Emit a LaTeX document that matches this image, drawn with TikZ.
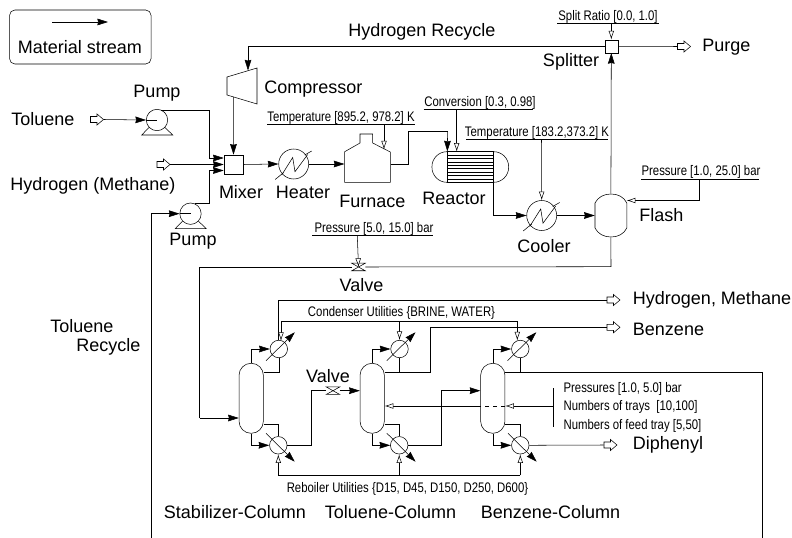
\documentclass[tikz,border=0pt]{standalone}
\usepackage{fontspec}
\setmainfont{Liberation Sans}
\newfontfamily\narrowfont[FakeStretch=0.82]{Liberation Sans}
\usetikzlibrary{arrows.meta,calc}
\tikzset{
  x=0.75pt,y=-0.75pt,
  line width=0.75pt,
  stream/.style={-{Stealth[length=8pt,width=5pt,inset=0.6pt]}},
  signal/.style={-{Latex[length=6.5pt,width=4.2pt,fill=white]}},
  label/.style={font=\fontsize{13.5}{15}\selectfont,inner sep=0pt},
  spec/.style={font=\narrowfont\fontsize{10.4}{12}\selectfont,inner sep=0pt},
  rule/.style={line width=0.75pt},
  unit/.style={draw,fill=white,inner sep=0pt,minimum width=19*0.75pt,minimum height=19*0.75pt},
  splitbox/.style={draw,fill=white,inner sep=0pt,minimum width=13*0.75pt,minimum height=13*0.75pt},
  pumpc/.style={draw,fill=white,circle,inner sep=0pt,minimum size=21.4*0.75pt},
  hex/.style={draw,fill=white,circle,inner sep=0pt,minimum size=30*0.75pt},
  trim/.style={draw,fill=white,circle,inner sep=0pt,minimum size=17.5*0.75pt},
  col/.style={draw,fill=white,inner sep=0pt,rounded corners=9pt,minimum width=24.3*0.75pt,minimum height=70*0.75pt},
  outlet/.style={inner sep=0pt,minimum width=13*0.75pt,minimum height=11*0.75pt},
}
\begin{document}
\begin{tikzpicture}
\useasboundingbox (0,0) rectangle (792,538);
% legend
\node[draw,rounded corners=4pt,inner sep=0pt,minimum width=141.5*0.75pt,minimum height=54*0.75pt] (legend) at (80.3,37) {};
\coordinate (la) at (52,22); \coordinate (lb) at (108,22);
\draw[stream] (la) -- (lb);
\node[label] (legendt) at (80,47) {Material stream};

% units
\node[unit] (mixer) at (233.5,164.5) {};
\node[splitbox] (splitter) at (611.3,46.3) {};
\node[pumpc] (pump1) at (157,120) {};
\node[pumpc] (pump2) at (190.5,213.7) {};
\node[hex] (heater) at (293.7,164) {};
\node[hex] (cooler) at (541.7,215.5) {};
\draw ($(pump1)+(-8,7.5)$) -- ($(pump1)+(-15.3,15)$) -- ($(pump1)+(15.7,15)$) -- ($(pump1)+(8,7.5)$);
\draw ($(pump2)+(-8,7.5)$) -- ($(pump2)+(-15.3,15)$) -- ($(pump2)+(15.7,15)$) -- ($(pump2)+(8,7.5)$);
% heat exchanger symbols
\foreach \h in {heater,cooler}{
  \draw ($(\h)+(-18.5,15.5)$) -- ($(\h)+(-10,8.5)$);
  \draw ($(\h)+(11,-9)$) -- ($(\h)+(18,-13)$);
  \draw ($(\h)+(-12,11)$) -- ($(\h)+(-1,-6.5)$) -- ($(\h)+(1.3,7.7)$) -- ($(\h)+(14,-9.5)$);
}
% compressor
\node[inner sep=0pt,minimum width=30*0.75pt,minimum height=36*0.75pt] (comp) at (242,86) {};
\draw (227,77) -- (257,68) -- (257,104) -- (227,95) -- cycle;
% furnace
\node[inner sep=0pt,minimum width=45.6*0.75pt,minimum height=48*0.75pt] (furnace) at (367.5,158) {};
\draw (344.7,182.3) -- (344.7,151.7) -- (360,143) -- (360,134) -- (372.7,134) -- (372.7,143) -- (390.3,152) -- (390.3,182.3) -- cycle;
% reactor
\node[draw,inner sep=0pt,rounded corners=11.2pt,minimum width=76.7*0.75pt,minimum height=30.6*0.75pt] (reactor) at (470.3,167) {};
\node[draw,inner sep=0pt,minimum width=45.4*0.75pt,minimum height=30.6*0.75pt] (tubes) at (470.3,167) {};
\foreach \ty in {155.1,158.5,161.9,165.3,168.7,172.1,175.5,178.9}{
  \draw ($(tubes.west |- 0,\ty)$) -- ($(tubes.east |- 0,\ty)$);
}
% flash
\node[inner sep=0pt,minimum width=31.7*0.75pt,minimum height=43*0.75pt] (flash) at (610.9,215.5) {};
\draw (595,203) .. controls (598,197) and (604,194) .. (611,194) .. controls (618,194) and (624,197) .. (626.8,203) -- (626.8,228) .. controls (624,234) and (618,237) .. (611,237) .. controls (604,237) and (598,234) .. (595,228) -- cycle;
% columns
\node[col] (col1) at (251.2,398.3) {};
\node[col] (col2) at (372.2,398.3) {};
\node[col] (col3) at (492.8,398.3) {};
\node[trim] (c1) at (278.8,349) {};
\node[trim] (c2) at (399.5,349) {};
\node[trim] (c3) at (520.3,349) {};
\node[trim] (r1) at (278.3,445.3) {};
\node[trim] (r2) at (399.2,445.3) {};
\node[trim] (r3) at (520.3,445.3) {};
% valves
\node[inner sep=0pt,minimum width=13*0.75pt,minimum height=7*0.75pt] (v1) at (358.5,267) {};
\node[inner sep=0pt,minimum width=13*0.75pt,minimum height=7*0.75pt] (v2) at (333,390.7) {};
% outlets
\node[outlet] (toluenein) at (97,119.5) {};
\node[outlet] (hydrogenin) at (163.5,164.5) {};
\node[outlet] (purge) at (684,46.5) {};
\node[outlet] (hm) at (613.5,300) {};
\node[outlet] (bz) at (613.5,327.3) {};
\node[outlet] (dp) at (610.5,445) {};
\foreach \o in {toluenein,hydrogenin,purge,hm,bz,dp}{
  \draw ($(\o)+(-6.5,-3)$) -- ($(\o)+(0,-3)$) -- ($(\o)+(0,-5.5)$) -- ($(\o)+(6.5,0)$) -- ($(\o)+(0,5.5)$) -- ($(\o)+(0,3)$) -- ($(\o)+(-6.5,3)$) -- cycle;
}

% main streams
\coordinate (recyclebot) at (151.5,538);
\coordinate (recycleend) at (762.3,538);
\draw[stream] (toluenein.east) -- (pump1.west);
\draw (pump1.west) -- (pump1.center);
\draw[stream] (pump1.68) -| (209,158) -- ($(mixer.west)+(0,-6.5)$);
\draw[stream] (hydrogenin.east) -- (mixer.west);
\draw[stream] (recyclebot) |- (pump2.west);
\draw (pump2.west) -- (pump2.center);
\draw[stream] (pump2.68) -| (209,170.5) -- ($(mixer.west)+(0,6)$);
\draw[stream] (233.3,97) -- (mixer.north);
\draw[stream] (mixer.east) -- (heater.west);
\draw[stream] (heater.east) -- (furnace.west |- heater.east);
\draw (furnace.east |- 0,164) -- (408.3,164) -- (408.3,131.5) -- (447.6,131.5);
\draw[stream] (447.6,131.5) -- (tubes.north west);
\draw[stream] (tubes.south east) |- (cooler.west);
\draw[stream] (cooler.east) -- (flash.west |- cooler.east);
\draw[stream] (flash.north) -- (splitter.south);
\draw[stream] (splitter.west) -| (248,70.5);
\draw (splitter.east) -- (purge.west);
\draw (flash.south) -- (611,266.7) -- (v1.east);
\draw (v1.west) -- (199.7,267) -- (199.7,418);
\draw[stream] (199.7,418) -- (col1.west |- 0,418);
\draw[fill=white] (v1.north west) -- (v1.south east) -- (v1.south west) -- (v1.north east) -- cycle;

% signals
\coordinate (t1) at (384,125);
\coordinate (t2) at (456.7,109.7);
\coordinate (t3) at (541.5,140);
\coordinate (t4) at (611.3,24);
\coordinate (t5) at (357.3,236);
\coordinate (t6) at (699,179.7);
\draw[signal] (t1) -- (384,149.5);
\draw[signal] (t2) -- (456.7,151.7);
\draw[signal] (t3) -- (cooler.north);
\draw[signal] (t4) -- (splitter.north);
\draw[signal] (t5) -- (v1.center);
\draw[signal] (t6) |- (626.8,200.5);

\draw[rule] (267,125) -- (415,125);
\draw[rule] (423.5,109.7) -- (533,109.7);
\draw[rule] (466,140) -- (608,140);
\draw[rule] (557,24) -- (659,24);
\draw[rule] (312,236) -- (433,236);
\draw[rule] (641,179.7) -- (759,179.7);

% column connections
\foreach \k/\c/\r in {col1/c1/r1,col2/c2/r2,col3/c3/r3}{
  \draw[stream] (\k.north) |- (\c.west);
  \draw[stream] (\k.south) |- (\r.west);
  \draw (\c.south) -- (\c.south |- 0,372.7);
  \draw (\r.north) -- (\r.north |- 0,424);
  \draw ($(\k.east |- 0,424)$) -- (\r.north |- 0,424);
  \draw[-{Stealth[length=8pt,width=5pt,inset=0.6pt]}] ($(\c)+(-12.8,11.7)$) -- ($(\c)+(16,-16.7)$);
  \draw[-{Stealth[length=8pt,width=5pt,inset=0.6pt]}] ($(\r)+(-12.3,-12)$) -- ($(\r)+(16.4,16.4)$);
}
\draw ($(col1.east |- 0,372.7)$) -- (c1.south |- 0,372.7);
\draw (278.5,340.3) -- (278.5,300) -- (hm.west);
\draw ($(col2.east |- 0,372.7)$) -- (430,372.7) -- (430,327.3) -- (bz.west);
\draw ($(col3.east |- 0,372.7)$) -- (762.3,372.7) -- (recycleend);
\draw (r1.east) -- (311.3,445.3) -- (311.3,390.7) -- (v2.west);
\draw[stream] (v2.east) -- (col2.west |- v2.east);
\draw[fill=white] (v2.north west) -- (v2.south east) -- (v2.south west) -- (v2.north east) -- cycle;
\draw[stream] (r2.east) -- (441.7,445.3) -- (441.7,390.7) -- (col3.west |- 0,390.7);
\draw (r3.east) -- (dp.west);

% utilities
\draw (281,321.3) -- (517.3,321.3);
\draw[signal] (281,321.3) -- (281,341);
\draw[signal] (c2 |- 0,321.3) -- (c2.north);
\draw[signal] (517.3,321.3) -- (517.3,340.5);
\draw (278.3,475.3) -- (520.3,475.3);
\draw[signal] (278.3,475.3) -- (r1.south);
\draw[signal] (399.2,475.3) -- (r2.south);
\draw[signal] (520.3,475.3) -- (r3.south);

% spec bar
\coordinate (bartop) at (553.3,388);
\coordinate (barbot) at (553.3,426.7);
\coordinate (barmid) at (553.3,406);
\draw (bartop) -- (barbot);
\draw[signal] (barmid) -- (col3.east |- 0,406);
\draw[dashed] (col3.east |- 0,406) -- (col3.west |- 0,406);
\draw[signal] (col3.west |- 0,406) -- (col2.east |- 0,406);

% big labels
\node[label,anchor=west] (lToluene) at (11,119) {Toluene};
\node[label,anchor=west] (lHM) at (10,186) {Hydrogen (Methane)};
\node[label] (lP1) at (157,93) {Pump};
\node[label] (lP2) at (193,241) {Pump};
\node[label,anchor=west] (lComp) at (264,89) {Compressor};
\node[label] (lHR) at (422,32) {Hydrogen Recycle};
\node[label] (lMix) at (241,192) {Mixer};
\node[label] (lHeat) at (303,192) {Heater};
\node[label,anchor=west] (lFur) at (339,201) {Furnace};
\node[label] (lReact) at (454,198) {Reactor};
\node[label] (lCool) at (544,246) {Cooler};
\node[label,anchor=west] (lFlash) at (639,215) {Flash};
\node[label] (lSplit) at (571,62) {Splitter};
\node[label,anchor=west] (lPurge) at (702,47) {Purge};
\node[label] (lV1) at (361.5,285) {Valve};
\node[label] (lV2) at (328,376) {Valve};
\node[label,anchor=west] (lTR1) at (50,326) {Toluene};
\node[label,anchor=west] (lTR2) at (76,347) {Recycle};
\node[label,anchor=west] (lHMo) at (632.7,300) {Hydrogen, Methane};
\node[label,anchor=west] (lBz) at (632.7,329.5) {Benzene};
\node[label,anchor=west] (lDp) at (632.7,445) {Diphenyl};
\node[label] (lC1) at (235,512) {Stabilizer-Column};
\node[label] (lC2) at (390.5,512) {Toluene-Column};
\node[label] (lC3) at (550.5,512) {Benzene-Column};
% small labels
\node[spec] (s1) at (341,117.5) {Temperature [895.2, 978.2] K};
\node[spec] (s2) at (480,102.7) {Conversion [0.3, 0.98]};
\node[spec] (s3) at (537,132.5) {Temperature [183.2,373.2] K};
\node[spec] (s4) at (608,17) {Split Ratio [0.0, 1.0]};
\node[spec] (s5) at (374,229) {Pressure [5.0, 15.0] bar};
\node[spec] (s6) at (701,171.7) {Pressure [1.0, 25.0] bar};
\node[spec] (s7) at (401.5,313) {Condenser Utilities \{BRINE, WATER\}};
\node[spec] (s8) at (407.5,489.3) {Reboiler Utilities \{D15, D45, D150, D250, D600\}};
\node[spec,anchor=west] (s9) at (563.3,389) {Pressures [1.0, 5.0] bar};
\node[spec,anchor=west] (s10) at (563.3,406.7) {Numbers of trays~~[10,100]};
\node[spec,anchor=west] (s11) at (563.3,425.7) {Numbers of feed tray [5,50]};
\end{tikzpicture}
\end{document}
